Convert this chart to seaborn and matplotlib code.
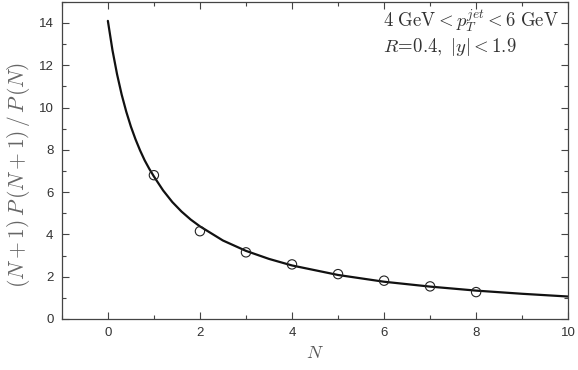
import numpy as np
import pandas as pd
import matplotlib
matplotlib.use("Agg")
import matplotlib.pyplot as plt
from matplotlib.ticker import MultipleLocator
import seaborn as sns

# curve
curve_n = [0, 0.1, 0.2, 0.3, 0.4, 0.5, 0.6, 0.7, 0.8, 0.9, 1.0, 1.2, 1.4, 1.6,
           1.8, 2.0, 2.5, 3, 3.5, 4, 5, 6, 7, 8, 9, 10]
curve_y = [14.1, 12.71, 11.57, 10.61, 9.80, 9.10, 8.50, 7.97, 7.50, 7.10, 6.74,
           6.08, 5.53, 5.08, 4.70, 4.38, 3.71, 3.22, 2.84, 2.53, 2.08, 1.76,
           1.53, 1.34, 1.19, 1.06]

# data points
pts_n = [1, 2, 3, 4, 5, 6, 7, 8]
pts_y = [6.8, 4.15, 3.15, 2.58, 2.12, 1.81, 1.54, 1.27]

sns.set_style("ticks")
plt.rcParams["font.family"] = ["Liberation Sans", "DejaVu Sans"]
plt.rcParams["mathtext.fontset"] = "cm"

curve = pd.DataFrame({"N": curve_n, "y": curve_y})
pts = pd.DataFrame({"N": pts_n, "y": pts_y})

fig = plt.figure(figsize=(5.78, 3.70), dpi=100)
ax = fig.add_axes([0.107, 0.138, 0.876, 0.857])

sns.lineplot(data=curve, x="N", y="y", ax=ax, color="#111111", lw=1.6)
sns.scatterplot(data=pts, x="N", y="y", ax=ax, marker="o", s=45,
                facecolors="none", edgecolor="#222222", linewidth=0.8, zorder=3)

ax.set_xlim(-1, 10)
ax.set_ylim(0, 15)
ax.xaxis.set_major_locator(MultipleLocator(2))
ax.xaxis.set_minor_locator(MultipleLocator(1))
ax.yaxis.set_major_locator(MultipleLocator(2))
ax.yaxis.set_minor_locator(MultipleLocator(1))
ax.tick_params(which="both", direction="in", top=True, right=True,
               colors="#444444", labelcolor="#333333", labelsize=9.5)
ax.tick_params(which="major", length=5, width=0.8, pad=6)
ax.tick_params(which="minor", length=3, width=0.8)
for sp in ax.spines.values():
    sp.set_color("#444444")
    sp.set_linewidth(0.9)

ax.set_xlabel("$N$", color="#555555", fontsize=13, labelpad=4)
ax.set_ylabel(r"$(N+1)\,P\,(N+1)\,/\,P\,(N)$", color="#666666", fontsize=15.5)
ax.yaxis.set_label_coords(-0.058, 0.455)

ax.text(0.634, 0.982, r"$4\ \mathrm{GeV} < p_T^{jet} < 6\ \mathrm{GeV}$",
        transform=ax.transAxes, ha="left", va="top", fontsize=13.5, color="#333333")
ax.text(0.634, 0.893, r"$R\!=\!0.4,\ |y| < 1.9$", transform=ax.transAxes,
        ha="left", va="top", fontsize=13.5, color="#333333")

fig.savefig("out.png", dpi=100)
